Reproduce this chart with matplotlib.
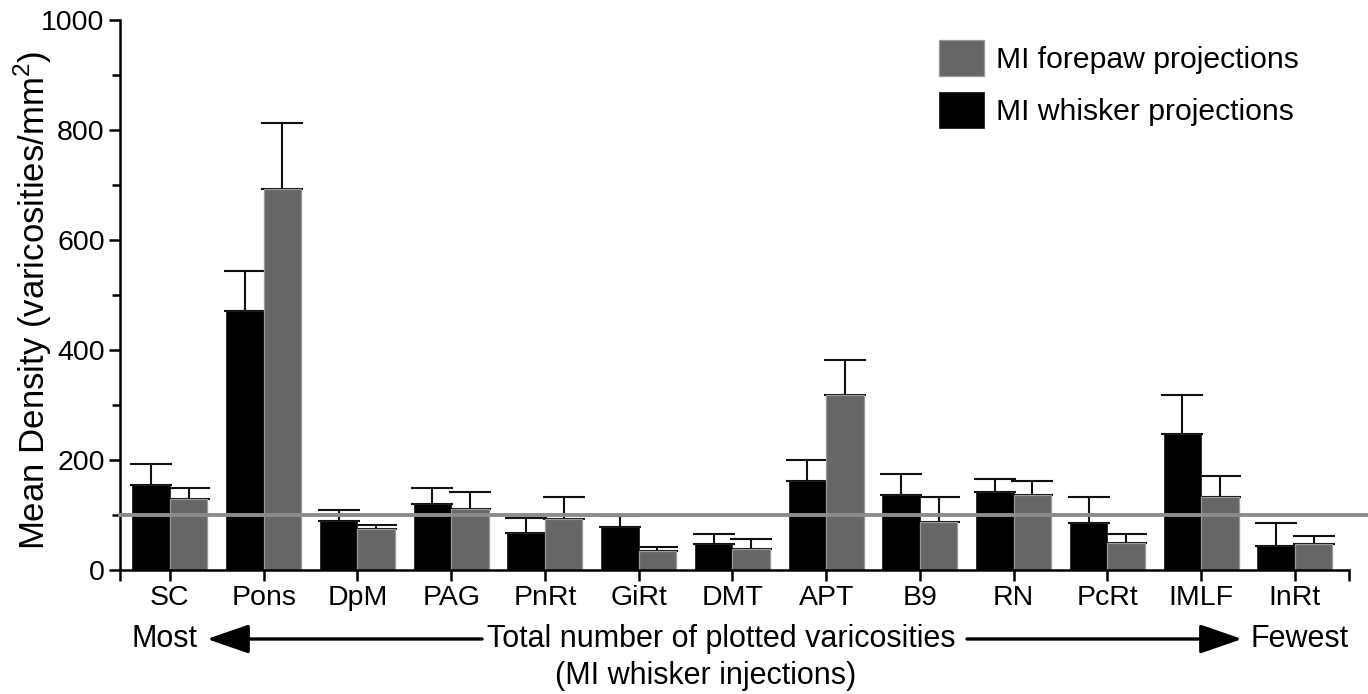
import numpy as np
import matplotlib
matplotlib.use("Agg")
import matplotlib.pyplot as plt
from matplotlib.patches import FancyArrowPatch
from matplotlib.ticker import MultipleLocator, FixedLocator

regions = ["SC", "Pons", "DpM", "PAG", "PnRt", "GiRt", "DMT", "APT",
           "B9", "RN", "PcRt", "IMLF", "InRt"]
whisker_mean = [154, 471, 90, 120, 67, 78, 48, 161, 136, 142, 85, 247, 43]
whisker_err = [38, 73, 20, 29, 27, 20, 17, 39, 39, 24, 48, 72, 42]
forepaw_mean = [130, 692, 75, 111, 93, 34, 38, 318, 88, 136, 50, 133, 47]
forepaw_err = [20, 120, 7, 30, 40, 8, 18, 63, 45, 25, 15, 38, 14]
reference_level = 100

FONT = "Liberation Sans"
plt.rcParams["font.family"] = [FONT, "DejaVu Sans"]
plt.rcParams["mathtext.fontset"] = "custom"
plt.rcParams["mathtext.rm"] = FONT

W, H = 1368, 694
fig = plt.figure(figsize=(W / 100, H / 100), dpi=100)
ax = fig.add_axes([120 / W, 1 - 570 / H, (1349 - 120) / W, 550 / H])

x = np.arange(len(regions))
w = 0.4
ax.bar(x - w / 2, whisker_mean, w, color="black", edgecolor="#222222",
       linewidth=0.6, zorder=2, label="MI whisker projections")
ax.bar(x + w / 2, forepaw_mean, w, color="#666666", edgecolor="#9a9a9a",
       linewidth=0.9, zorder=2, label="MI forepaw projections")
err_kw = dict(fmt="none", ecolor="#111111", elinewidth=1.5, capsize=15,
              capthick=1.5, zorder=1)
ax.errorbar(x - w / 2, whisker_mean, yerr=[np.zeros(len(x)), whisker_err], **err_kw)
ax.errorbar(x + w / 2, forepaw_mean, yerr=[np.zeros(len(x)), forepaw_err], **err_kw)

# horizontal reference level running out to the right edge
ax.axhline(reference_level, xmin=0, xmax=1.03, color="#8c8c8c", lw=2.8,
           zorder=3, clip_on=False)

ax.set_xlim(-0.533, 12.576)
ax.set_ylim(0, 1000)
for s in ["top", "right"]:
    ax.spines[s].set_visible(False)
for s in ["left", "bottom"]:
    ax.spines[s].set_linewidth(1.8)

ax.yaxis.set_major_locator(MultipleLocator(200))
ax.yaxis.set_minor_locator(MultipleLocator(100))
ax.set_xticks(x)
ax.set_xticklabels(regions)
ax.xaxis.set_minor_locator(FixedLocator([-0.533, 12.576]))
ax.tick_params(axis="both", which="major", direction="out", length=8,
               width=1.8, labelsize=20.5)
ax.tick_params(axis="both", which="minor", direction="out", length=6,
               width=1.8)
ax.tick_params(axis="x", which="minor", length=8)
ax.tick_params(axis="x", which="major", pad=3)
ax.tick_params(axis="y", which="major", pad=3)

fig.text(33 / W, 1 - 300 / H, "Mean Density (varicosities/mm$^2$)",
         rotation=90, ha="center", va="center", fontsize=25)

handles, labels = ax.get_legend_handles_labels()
ax.legend(handles[::-1], labels[::-1], loc="upper left",
          bbox_to_anchor=(939 / W, 1 - 40 / H),
          bbox_transform=fig.transFigure, frameon=False, fontsize=21.7,
          borderpad=0, borderaxespad=0, handlelength=1.5, handleheight=1.45,
          handletextpad=0.4, labelspacing=0.55)

# ordering cue below the category axis
row1 = 1 - 639 / H
row2 = 1 - 676 / H
fig.text(165 / W, row1, "Most", ha="center", va="center", fontsize=22)
fig.text(1300 / W, row1, "Fewest", ha="center", va="center", fontsize=22)
fig.text(721 / W, row1, "Total number of plotted varicosities",
         ha="center", va="center", fontsize=22)
fig.text(706 / W, row2, "(MI whisker injections)",
         ha="center", va="center", fontsize=22)
arrow_style = dict(arrowstyle="-|>,head_length=2.6,head_width=0.9",
                   color="black", lw=2.4, shrinkA=0, shrinkB=0,
                   mutation_scale=10, transform=fig.transFigure)
fig.add_artist(FancyArrowPatch((482 / W, row1), (207 / W, row1), **arrow_style))
fig.add_artist(FancyArrowPatch((967 / W, row1), (1242 / W, row1), **arrow_style))

fig.savefig("out.png", dpi=100, facecolor="white")
